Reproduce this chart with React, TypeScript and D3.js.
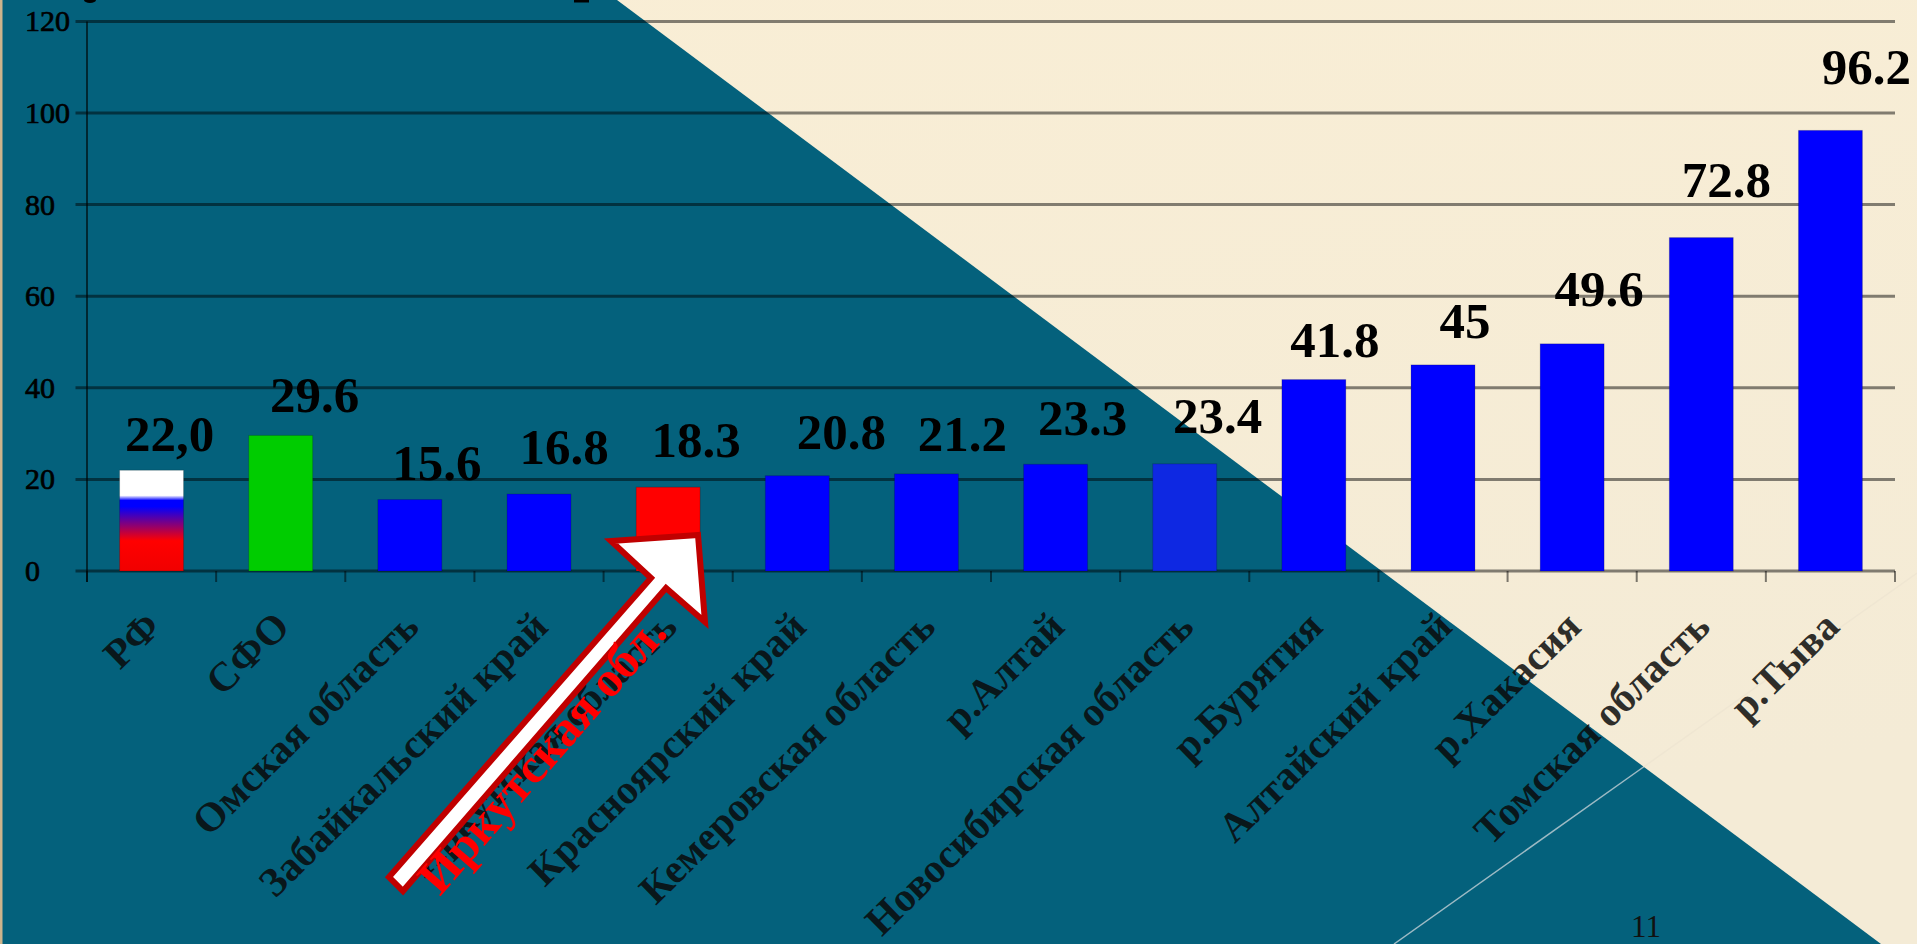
import React from "react";
import * as d3 from "d3";

const categories = [
  "РФ", "СФО", "Омская область", "Забайкальский край", "Иркутская область",
  "Красноярский край", "Кемеровская область", "р.Алтай", "Новосибирская область",
  "р.Бурятия", "Алтайский край", "р.Хакасия", "Томская область", "р.Тыва",
];
const values = [22, 29.6, 15.6, 16.8, 18.3, 20.8, 21.2, 23.3, 23.4, 41.8, 45, 49.6, 72.8, 96.2];
const valueLabels = ["22,0", "29.6", "15.6", "16.8", "18.3", "20.8", "21.2", "23.3", "23.4", "41.8", "45", "49.6", "72.8", "96.2"];
const yTicks = [0, 20, 40, 60, 80, 100, 120];

// Hand-placed data labels: shift from the bar centre and gap above the bar top.
const labelShiftX = [18, 34, 27, 25, 28, 44, 36, 27, 33, 21, 22, 27, 25, 36];
const labelGapY = [19, 23, 20, 30, 30, 27, 23, 29, 31, 23, 27, 38, 41, 46];

const W = 1917;
const H = 944;
const TEAL = "#04617C";
const SERIF = "'Liberation Serif', 'Times New Roman', serif";

const x = d3.scaleBand<string>().domain(categories).range([87, 1895]).paddingInner(0.505).paddingOuter(0.2525);
const y = d3.scaleLinear().domain([0, 120]).range([571, 21.4]);
const step = x.step();
const boundaries = d3.range(categories.length + 1).map((i) => 87 + i * step);

const arrow = d3.line()([
  [698, 535], [611, 541], [651, 578], [389, 877], [403, 891], [666, 588], [705, 622],
]) + "Z";

function barFill(i: number) {
  if (i === 0) return "url(#flagFill)";
  if (i === 1) return "#00CC00";
  if (i === 4) return "#FF0000";
  if (i === 8) return "#0E28E2";
  return "#0000FF";
}

export default function App() {
  return (
    <svg width={W} height={H} viewBox={`0 0 ${W} ${H}`} style={{ position: "absolute", left: 0, top: 0, display: "block" }}>
      <defs>
        <linearGradient id="paper" x1="0" y1="0" x2="0.3" y2="1">
          <stop offset="0" stopColor="#F9EED5" />
          <stop offset="1" stopColor="#F4EBD6" />
        </linearGradient>
        <linearGradient id="flagFill" x1="0" y1="0" x2="0" y2="1">
          <stop offset="0" stopColor="#FFFFFF" />
          <stop offset="0.25" stopColor="#FFFFFF" />
          <stop offset="0.3" stopColor="#0000FF" />
          <stop offset="0.36" stopColor="#0000FF" />
          <stop offset="0.7" stopColor="#FF0000" />
          <stop offset="1" stopColor="#F00000" />
        </linearGradient>
      </defs>

      {/* Slide background */}
      <rect width={W} height={H} fill="url(#paper)" />
      <polygon points={`0,0 617,0 1881,944 0,944`} fill={TEAL} />
      <rect width={2.5} height={H} fill="#CDB48C" />
      <line x1={1394} y1={944} x2={1643.5} y2={767} stroke="#9DBAC4" strokeWidth={1.5} />
      <line x1={1643.5} y1={767} x2={1917} y2={573} stroke="#EFE6D2" strokeWidth={1.5} />

      {/* Remains of the heading that runs off the top edge */}
      <ellipse cx={90} cy={0} rx={6} ry={3} fill="#000" />
      <rect x={574} y={0} width={15} height={2.5} fill="#000" />

      {/* Gridlines and axes */}
      {yTicks.map((t) => (
        <line key={t} x1={75.5} x2={1895} y1={y(t)} y2={y(t)} stroke="#000" strokeOpacity={0.48} strokeWidth={3} />
      ))}
      <line x1={87} x2={87} y1={y(120)} y2={582} stroke="#000" strokeOpacity={0.6} strokeWidth={2} />
      {boundaries.map((b) => (
        <line key={b} x1={b} x2={b} y1={571} y2={582} stroke="#000" strokeOpacity={0.5} strokeWidth={2} />
      ))}
      {yTicks.map((t) => (
        <text key={t} x={25} y={y(t) + 10} fontFamily={SERIF} fontSize={30} fill="#000" stroke="#000" strokeWidth={0.7}>
          {t}
        </text>
      ))}

      {/* Bars */}
      {values.map((v, i) => (
        <rect
          key={categories[i]}
          x={x(categories[i])}
          y={y(v)}
          width={x.bandwidth()}
          height={y(0) - y(v)}
          fill={barFill(i)}
          stroke="#000"
          strokeOpacity={0.18}
          strokeWidth={1}
        />
      ))}

      {/* Data labels */}
      {values.map((v, i) => (
        <text
          key={categories[i]}
          x={(x(categories[i]) as number) + x.bandwidth() / 2 + labelShiftX[i]}
          y={y(v) - labelGapY[i]}
          textAnchor="middle"
          fontFamily={SERIF}
          fontWeight="bold"
          fontSize={51}
          fill="#000"
        >
          {valueLabels[i]}
        </text>
      ))}

      {/* Rotated category labels */}
      {categories.map((c) => {
        const cx = (x(c) as number) + x.bandwidth() / 2 + 11;
        return (
          <text
            key={c}
            transform={`translate(${cx},629) rotate(-44.5)`}
            textAnchor="end"
            fontFamily={SERIF}
            fontWeight="bold"
            fontSize={41}
            fill="#0A0A0A"
            fillOpacity={0.85}
          >
            {c}
          </text>
        );
      })}

      {/* Callout for the highlighted region */}
      <path d={arrow} fill="#FFFFFF" stroke="#C00000" strokeWidth={6} strokeLinejoin="miter" />
      <text
        transform="translate(440,897) rotate(-49)"
        fontFamily={SERIF}
        fontWeight="bold"
        fontSize={50}
        fill="#FF0000"
      >
        Иркутская обл.
      </text>

      {/* Slide number */}
      <text x={1646} y={937} textAnchor="middle" fontFamily={SERIF} fontSize={31} fill="#111">
        11
      </text>
    </svg>
  );
}
